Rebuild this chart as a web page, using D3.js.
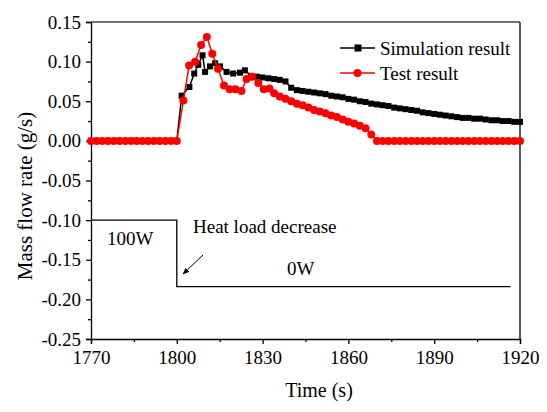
<!DOCTYPE html>
<html lang="en">
<head>
  <meta charset="UTF-8">
  <title>Mass flow rate</title>
  <script src="https://d3js.org/d3.v7.min.js"></script>
  <style>
    body { margin: 0; background: #fff; }
  </style>
</head>
<body>
  <div id="root"></div>
  <script>
    // 仿真结果 (simulation)
    const simTime = [1770,1772,1774,1776,1778,1780,1782,1784,1786,1788,1790,1792,1794,1796,1798,1800,
      1801.7,1804.4,1806.1,1807.5,1809.0,1809.9,1811.6,1813.4,1815.1,1817.4,1819.7,1822.1,1823.8,
      1826,1828,1830,1832,1834,1836,1838,1840,1842,1844,1846,1848,1850,1852,1854,1856,1858,1860,
      1862,1864,1866,1868,1870,1872,1874,1876,1878,1880,1882,1884,1886,1888,1890,1892,1894,1896,
      1898,1900,1902,1904,1906,1908,1910,1912,1914,1916,1918,1920]
    const simValue = [0,0,0,0,0,0,0,0,0,0,0,0,0,0,0,0,
      0.057,0.068,0.085,0.096,0.108,0.087,0.094,0.098,0.094,0.087,0.085,0.086,0.089,
      0.082,0.081,0.080,0.079,0.078,0.077,0.075,0.067,0.064,0.063,0.062,0.061,0.060,0.059,0.057,0.056,0.055,0.053,
      0.052,0.050,0.049,0.047,0.046,0.045,0.044,0.042,0.041,0.040,0.039,0.038,0.036,0.035,0.034,0.033,0.032,0.031,
      0.030,0.029,0.029,0.028,0.028,0.027,0.026,0.026,0.025,0.025,0.024,0.024]

    // 实验结果 (test)
    const testTime = [1770,1772,1774,1776,1778,1780,1782,1784,1786,1788,1790,1792,1794,1796,1798,1800,
      1802.3,1804.3,1806.4,1808.5,1810.5,1812.4,1814.4,1816.5,1818.5,1820.5,1822.6,1824.4,1826.3,1828.5,1830.4,1832.4,
      1834,1836,1838,1840,1842,1844,1846,1848,1850,1852,1854,1856,1858,1860,1862,1864,1866,1868,1870,
      1872,1874,1876,1878,1880,1882,1884,1886,1888,1890,1892,1894,1896,1898,1900,1902,1904,1906,1908,1910,
      1912,1914,1916,1918,1920]
    const testValue = [0,0,0,0,0,0,0,0,0,0,0,0,0,0,0,0,
      0.051,0.095,0.100,0.121,0.131,0.110,0.091,0.070,0.065,0.065,0.063,0.078,0.081,0.073,0.065,0.066,
      0.060,0.056,0.053,0.050,0.047,0.045,0.042,0.039,0.037,0.035,0.032,0.030,0.027,0.024,0.022,0.019,0.016,0.008,0,
      0,0,0,0,0,0,0,0,0,0,0,0,0,0,0,0,0,0,0,0,
      0,0,0,0,0]

    // 热负荷阶跃
    const powerTime = [1770, 1800, 1800, 1916.7]
    const powerValue = [-0.10, -0.10, -0.184, -0.184]

    const xTicks = [1770, 1800, 1830, 1860, 1890, 1920]
    const xMinor = [1785, 1815, 1845, 1875, 1905]
    const yTicks = [-0.25, -0.20, -0.15, -0.10, -0.05, 0.00, 0.05, 0.10, 0.15]
    const yMinor = [-0.225, -0.175, -0.125, -0.075, -0.025, 0.025, 0.075, 0.125]

    const FONT = '"Liberation Serif", "Times New Roman", serif'
    const W = 547, H = 412
    const margin = { left: 91, right: 27, top: 22, bottom: 73 }

    const svg = d3.select('#root').append('svg')
      .attr('width', W).attr('height', H)
      .attr('font-family', FONT)

    const x = d3.scaleLinear().domain([1770, 1920]).range([margin.left, W - margin.right])
    const y = d3.scaleLinear().domain([-0.25, 0.15]).range([H - margin.bottom, margin.top])

    // 边框
    svg.append('line')
      .attr('x1', x(1770)).attr('x2', x(1920)).attr('y1', y(0.15)).attr('y2', y(0.15))
      .attr('stroke', '#444').attr('stroke-width', 1.3)
    svg.append('line')
      .attr('x1', x(1920)).attr('x2', x(1920)).attr('y1', y(0.15)).attr('y2', y(-0.25))
      .attr('stroke', '#000').attr('stroke-width', 1.3)

    // 坐标轴
    svg.append('g')
      .attr('transform', `translate(0,${y(-0.25)})`)
      .call(d3.axisBottom(x).tickValues(xTicks).tickFormat(d3.format('d')).tickSize(5).tickPadding(7))
    svg.append('g')
      .attr('transform', `translate(0,${y(-0.25)})`)
      .call(d3.axisBottom(x).tickValues(xMinor).tickFormat('').tickSize(3))
      .call(g => g.select('.domain').remove())

    const yAxis = svg.append('g')
      .attr('transform', `translate(${x(1770)},0)`)
      .call(d3.axisLeft(y).tickValues(yTicks).tickSize(5).tickPadding(5))
    svg.append('g')
      .attr('transform', `translate(${x(1770)},0)`)
      .call(d3.axisLeft(y).tickValues(yMinor).tickFormat('').tickSize(3))
      .call(g => g.select('.domain').remove())

    svg.selectAll('g').attr('font-family', FONT)
    svg.selectAll('.domain, .tick line').attr('stroke', '#000').attr('stroke-width', 1.3)
    svg.selectAll('.tick text')
      .attr('font-family', FONT)
      .attr('font-size', 19).attr('fill', '#000')
    // 负号用连字符
    yAxis.selectAll('.tick text').text(d => d3.format('.2f')(d).replace('−', '-'))

    // 坐标轴标题
    svg.append('text')
      .attr('x', 319).attr('y', 397)
      .attr('text-anchor', 'middle').attr('font-size', 20)
      .text('Time (s)')
    svg.append('text')
      .attr('transform', 'translate(32,196) rotate(-90)')
      .attr('text-anchor', 'middle').attr('font-size', 21)
      .text('Mass flow rate (g/s)')

    // 热负荷线
    const line = d3.line().x(d => x(d[0])).y(d => y(d[1]))
    const powerData = powerTime.map((t, i) => [t, powerValue[i]])
    svg.append('path')
      .attr('d', line(powerData))
      .attr('fill', 'none').attr('stroke', '#000').attr('stroke-width', 1.3)

    svg.append('text').attr('x', 107).attr('y', 245).attr('font-size', 19).text('100W')
    svg.append('text').attr('x', 287).attr('y', 275).attr('font-size', 19).text('0W')
    svg.append('text').attr('x', 193).attr('y', 233).attr('font-size', 19).text('Heat load decrease')

    // 箭头
    svg.append('defs').append('marker')
      .attr('id', 'arrow').attr('viewBox', '0 0 10 10')
      .attr('refX', 9).attr('refY', 5)
      .attr('markerWidth', 7).attr('markerHeight', 7)
      .attr('orient', 'auto')
      .append('path').attr('d', 'M0,1 L10,5 L0,9 Z').attr('fill', '#000')
    svg.append('line')
      .attr('x1', 203).attr('y1', 255).attr('x2', 183).attr('y2', 274)
      .attr('stroke', '#000').attr('stroke-width', 1)
      .attr('marker-end', 'url(#arrow)')

    // 仿真曲线
    const simData = simTime.map((t, i) => [t, simValue[i]])
    svg.append('path')
      .attr('d', line(simData))
      .attr('fill', 'none').attr('stroke', '#000').attr('stroke-width', 1.5)
    svg.append('g').selectAll('rect')
      .data(simData).enter()
      .append('rect')
      .attr('x', d => x(d[0]) - 3).attr('y', d => y(d[1]) - 3)
      .attr('width', 6).attr('height', 6)
      .attr('fill', '#000')

    // 实验曲线
    const testData = testTime.map((t, i) => [t, testValue[i]])
    svg.append('path')
      .attr('d', line(testData))
      .attr('fill', 'none').attr('stroke', '#f00').attr('stroke-width', 1.5)
    svg.append('g').selectAll('circle')
      .data(testData).enter()
      .append('circle')
      .attr('cx', d => x(d[0])).attr('cy', d => y(d[1]))
      .attr('r', 4)
      .attr('fill', '#f00')

    // 图例
    const legend = [
      { name: 'Simulation result', color: '#000', shape: 'rect', yy: 48 },
      { name: 'Test result', color: '#f00', shape: 'circle', yy: 73 }
    ]
    const lg = svg.append('g')
    legend.forEach(l => {
      lg.append('line').attr('x1', 340).attr('x2', 375).attr('y1', l.yy).attr('y2', l.yy)
        .attr('stroke', l.color).attr('stroke-width', 1.5)
      if (l.shape === 'rect') {
        lg.append('rect').attr('x', 354.5).attr('y', l.yy - 3.5).attr('width', 7).attr('height', 7).attr('fill', l.color)
      } else {
        lg.append('circle').attr('cx', 357.5).attr('cy', l.yy).attr('r', 4).attr('fill', l.color)
      }
      lg.append('text').attr('x', 380).attr('y', l.yy + 7).attr('font-size', 19).text(l.name)
    })
  </script>
</body>
</html>
